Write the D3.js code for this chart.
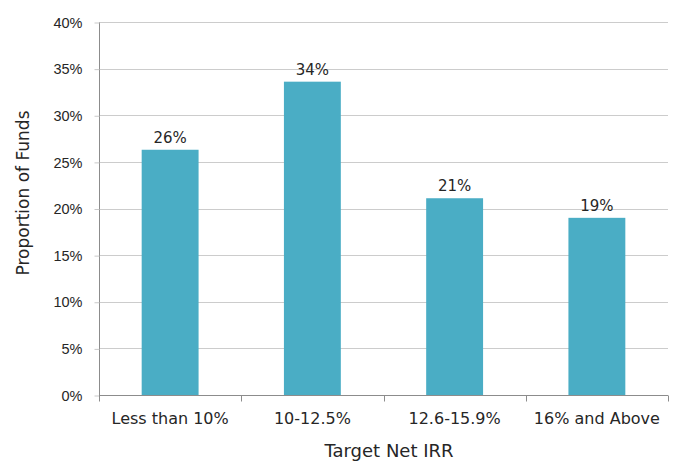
<!DOCTYPE html>
<html>
<head>
<meta charset="utf-8">
<script src="https://cdn.jsdelivr.net/npm/d3@7"></script>
<style>
  html, body { margin: 0; padding: 0; background: #ffffff; }
  svg { display: block; font-family: "DejaVu Sans", sans-serif; }
</style>
</head>
<body>
<svg id="chart" width="689" height="461"></svg>
<script>
// Share of funds by target net IRR band
const categories = ["Less than 10%", "10-12.5%", "12.6-15.9%", "16% and Above"];
const shares = [0.263, 0.336, 0.211, 0.190];
const yTicks = [0, 0.05, 0.10, 0.15, 0.20, 0.25, 0.30, 0.35, 0.40];
const xTitle = "Target Net IRR";
const yTitle = "Proportion of Funds";

const svg = d3.select("#chart");
const margin = { left: 99, right: 21, top: 22, bottom: 66 };
const W = 689, H = 461;

const x = d3.scaleBand()
  .domain(categories)
  .range([margin.left, W - margin.right])
  .paddingInner(0.6)
  .paddingOuter(0.3);

const y = d3.scaleLinear()
  .domain([0, 0.4])
  .range([H - margin.bottom, margin.top]);

const pct = d3.format(".0%");
const textColor = "#262626";

// horizontal gridlines
svg.append("g")
  .selectAll("line")
  .data(yTicks.filter(d => d > 0))
  .join("line")
  .attr("x1", margin.left)
  .attr("x2", W - margin.right)
  .attr("y1", d => Math.round(y(d)) + 0.5)
  .attr("y2", d => Math.round(y(d)) + 0.5)
  .attr("stroke", "#cccccc")
  .attr("stroke-width", 1);

// y axis
const yAxis = svg.append("g")
  .attr("transform", `translate(${margin.left + 0.5},0.5)`)
  .call(d3.axisLeft(y).tickValues(yTicks).tickFormat(pct).tickSize(5).tickPadding(12));
yAxis.select(".domain").attr("stroke", "#8c8c8c").attr("d", `M0,${y(0.4)}V${y(0)}`);
yAxis.selectAll(".tick line").attr("stroke", "#c9c9c9");
yAxis.selectAll(".tick text")
  .attr("fill", textColor)
  .style("font-size", "14.5px");

// bars
svg.append("g")
  .selectAll("rect")
  .data(categories)
  .join("rect")
  .attr("x", d => x(d))
  .attr("width", x.bandwidth())
  .attr("y", (d, i) => y(shares[i]))
  .attr("height", (d, i) => y(0) - y(shares[i]))
  .attr("fill", "#4aadc5");

// value labels
svg.append("g")
  .selectAll("text")
  .data(categories)
  .join("text")
  .attr("x", d => x(d) + x.bandwidth() / 2)
  .attr("y", (d, i) => y(shares[i]) - 7)
  .attr("text-anchor", "middle")
  .attr("fill", textColor)
  .style("font-size", "15px")
  .text((d, i) => pct(shares[i]));

// x axis with ticks at category boundaries
const xg = svg.append("g")
  .attr("transform", `translate(0,${Math.round(y(0)) + 0.5})`);
xg.append("line")
  .attr("x1", margin.left).attr("x2", W - margin.right)
  .attr("stroke", "#8c8c8c");
const bounds = d3.range(categories.length + 1).map(i => margin.left + i * (W - margin.left - margin.right) / categories.length);
xg.selectAll("line.b")
  .data(bounds)
  .join("line")
  .attr("class", "b")
  .attr("x1", d => Math.round(d) + 0.5).attr("x2", d => Math.round(d) + 0.5)
  .attr("y1", 0).attr("y2", 6)
  .attr("stroke", "#8c8c8c");
xg.selectAll("text")
  .data(categories)
  .join("text")
  .attr("x", d => x(d) + x.bandwidth() / 2)
  .attr("y", 28)
  .attr("text-anchor", "middle")
  .attr("fill", textColor)
  .style("font-size", "16px")
  .text(d => d);

// axis titles
svg.append("text")
  .attr("x", 389)
  .attr("y", 457)
  .attr("text-anchor", "middle")
  .attr("fill", textColor)
  .style("font-size", "18px")
  .text(xTitle);

svg.append("text")
  .attr("transform", `translate(29,193) rotate(-90)`)
  .attr("text-anchor", "middle")
  .attr("fill", textColor)
  .style("font-size", "17px")
  .text(yTitle);
</script>
</body>
</html>
